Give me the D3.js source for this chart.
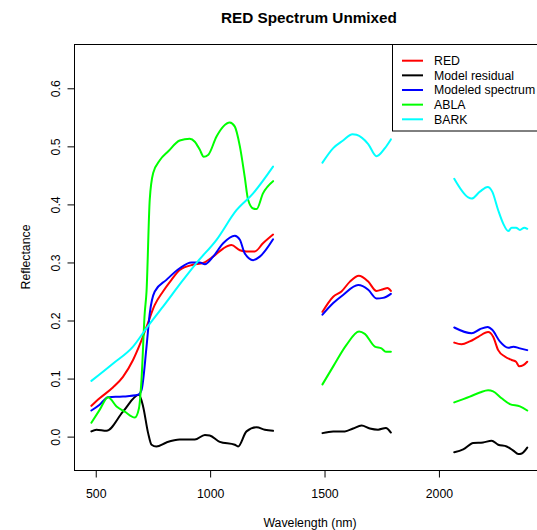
<!DOCTYPE html>
<html>
<head>
<meta charset="utf-8">
<script src="https://cdn.jsdelivr.net/npm/d3@7"></script>
<style>
  html, body { margin: 0; padding: 0; background: #fff; overflow: hidden; }
  text { font-family: "Liberation Sans", Arial, Helvetica, sans-serif; }
</style>
</head>
<body>
<svg id="chart" width="537" height="530"></svg>
<script>
// ---- data (null breaks the line between spectral segments) ----
const redWl = [481,517,576,619,663,692,722,758,794,831,867,925,969,1013,1057,1093,1130,1159,1195,1231,1275, null,
  1491,1538,1574,1611,1650,1691,1727,1756,1775,1790, null,
  2067,2099,2135,2172,2215,2237,2259,2288,2318,2337,2351,2369,2386];
const redVal = [0.053,0.066,0.085,0.103,0.132,0.158,0.189,0.227,0.250,0.270,0.287,0.296,0.299,0.310,0.324,0.330,0.321,0.319,0.319,0.333,0.348, null,
  0.215,0.241,0.250,0.267,0.277,0.267,0.251,0.254,0.256,0.251, null,
  0.162,0.159,0.164,0.172,0.180,0.172,0.149,0.138,0.132,0.129,0.121,0.123,0.129];

const residWl = [481,503,547,619,689,707,729,744,765,809,867,933,977,998,1042,1108,1122,1159,1203,1239,1275, null,
  1491,1538,1589,1625,1662,1698,1734,1768,1790, null,
  2067,2106,2150,2193,2230,2259,2296,2325,2347,2362,2386];
const residVal = [0.009,0.012,0.010,0.043,0.072,0.052,0.006,-0.014,-0.017,-0.010,-0.005,-0.005,0.003,0.002,-0.009,-0.014,-0.017,0.009,0.016,0.012,0.010, null,
  0.006,0.009,0.009,0.014,0.019,0.014,0.012,0.015,0.007, null,
  -0.027,-0.022,-0.011,-0.010,-0.007,-0.014,-0.017,-0.024,-0.030,-0.029,-0.019];

const modelWl = [481,517,554,619,685,700,722,736,758,809,867,918,955,977,1013,1057,1108,1130,1151,1188,1217,1275, null,
  1491,1538,1581,1647,1691,1727,1756,1790, null,
  2067,2143,2179,2213,2233,2266,2303,2325,2354,2386];
const modelVal = [0.045,0.055,0.068,0.069,0.072,0.080,0.155,0.212,0.250,0.270,0.290,0.300,0.300,0.297,0.310,0.333,0.346,0.339,0.316,0.304,0.310,0.340, null,
  0.210,0.230,0.244,0.261,0.253,0.238,0.239,0.246, null,
  0.188,0.178,0.185,0.189,0.184,0.164,0.153,0.155,0.152,0.149];

const ablaWl = [481,517,554,591,627,671,689,700,714,722,736,751,780,816,867,911,933,955,972,991,1028,1057,1086,1108,1130,1151,1166,1188,1203,1231,1275, null,
  1491,1538,1596,1651,1676,1720,1749,1768,1790, null,
  2067,2135,2179,2215,2237,2274,2310,2354,2386];
const ablaVal = [0.024,0.046,0.068,0.052,0.043,0.033,0.049,0.098,0.212,0.250,0.408,0.454,0.476,0.491,0.510,0.513,0.508,0.494,0.482,0.485,0.517,0.534,0.541,0.534,0.500,0.448,0.408,0.393,0.392,0.419,0.440, null,
  0.090,0.121,0.158,0.181,0.177,0.155,0.152,0.146,0.146, null,
  0.059,0.069,0.076,0.080,0.078,0.066,0.056,0.052,0.045];

const barkWl = [481,576,663,722,794,882,940,1028,1115,1188,1275, null,
  1491,1538,1581,1622,1640,1691,1727,1764,1790, null,
  2067,2128,2143,2179,2213,2233,2259,2281,2303,2318,2337,2354,2373,2386];
const barkVal = [0.096,0.126,0.155,0.187,0.224,0.270,0.299,0.339,0.390,0.419,0.465, null,
  0.472,0.497,0.510,0.521,0.520,0.504,0.483,0.497,0.512, null,
  0.444,0.412,0.410,0.422,0.430,0.422,0.390,0.367,0.354,0.360,0.360,0.356,0.360,0.358];

const seriesNames = ["RED", "Model residual", "Modeled spectrum", "ABLA", "BARK"];
const seriesColors = ["#FF0000", "#000000", "#0000FF", "#00FF00", "#00FFFF"];
const xTicks = [500, 1000, 1500, 2000];
const yTicks = [0.0, 0.1, 0.2, 0.3, 0.4, 0.5, 0.6];
const titleText = "RED Spectrum Unmixed";
const xLabel = "Wavelength (nm)";
const yLabel = "Reflectance";

// ---- layout ----
const svg = d3.select("#chart");
const L = 74, R = 546, T = 44, B = 470;
const x = d3.scaleLinear().domain([405, 2468]).range([L, R]);
const y = d3.scaleLinear().domain([-0.0575, 0.6763]).range([B, T]);

const series = [
  {wl: redWl, val: redVal},
  {wl: residWl, val: residVal},
  {wl: modelWl, val: modelVal},
  {wl: ablaWl, val: ablaVal},
  {wl: barkWl, val: barkVal}
].map((s, i) => ({
  name: seriesNames[i], color: seriesColors[i],
  pts: s.wl.map((w, j) => [w, s.val[j]])
}));

const line = d3.line()
  .defined(d => d[0] !== null && d[1] !== null)
  .x(d => x(d[0])).y(d => y(d[1]))
  .curve(d3.curveMonotoneX);

svg.append("g").selectAll("path").data(series).join("path")
  .attr("d", d => line(d.pts))
  .attr("fill", "none")
  .attr("stroke", d => d.color)
  .attr("stroke-width", 2)
  .attr("stroke-linejoin", "round")
  .attr("stroke-linecap", "round");

// box
svg.append("rect").attr("x", L + 0.5).attr("y", T + 0.5)
  .attr("width", R - L).attr("height", B - T)
  .attr("fill", "none").attr("stroke", "#000").attr("stroke-width", 1);

// x axis
const xAxis = d3.axisBottom(x).tickValues(xTicks).tickSize(7).tickPadding(12).tickFormat(d3.format("d"));
const gx = svg.append("g").attr("transform", `translate(0,${B + 0.5})`).call(xAxis);
gx.select(".domain").attr("d", `M${x(500)},0H${x(2000)}`).attr("stroke", "#000");
gx.selectAll("text").attr("font-size", 12.3).attr("fill", "#000")
  .attr("font-family", "'Liberation Sans', Arial, sans-serif");

// y axis
const yAxis = d3.axisLeft(y).tickValues(yTicks).tickSize(7).tickFormat(d3.format(".1f"));
const gy = svg.append("g").attr("transform", `translate(${L + 0.5},0)`).call(yAxis);
gy.select(".domain").attr("d", `M0,${y(0)}V${y(0.6)}`).attr("stroke", "#000");
gy.selectAll(".tick text")
  .attr("font-size", 12.3).attr("fill", "#000")
  .attr("font-family", "'Liberation Sans', Arial, sans-serif")
  .attr("x", null).attr("dy", null)
  .attr("text-anchor", "middle")
  .attr("transform", "translate(-14.5,0) rotate(-90)");

// title & labels
svg.append("text").attr("x", 309).attr("y", 23).attr("text-anchor", "middle")
  .attr("font-size", 15.3).attr("font-weight", "bold").text(titleText);
svg.append("text").attr("x", 310).attr("y", 527).attr("text-anchor", "middle")
  .attr("font-size", 12.3).text(xLabel);
svg.append("text").attr("transform", "translate(30,257) rotate(-90)").attr("text-anchor", "middle")
  .attr("font-size", 12.3).text(yLabel);

// legend
const lg = svg.append("g");
lg.append("rect").attr("x", 392.5).attr("y", T + 0.5).attr("width", R - 392).attr("height", 86.5)
  .attr("fill", "#fff").attr("stroke", "#000").attr("stroke-width", 1);
const rows = lg.selectAll("g.row").data(series).join("g").attr("class", "row")
  .attr("transform", (d, i) => `translate(0,${60.7 + i * 14.65})`);
rows.append("line").attr("x1", 402).attr("x2", 423).attr("y1", 0).attr("y2", 0)
  .attr("stroke", d => d.color).attr("stroke-width", 2);
rows.append("text").attr("x", 434).attr("y", 4.4).attr("font-size", 12.3).text(d => d.name);
</script>
</body>
</html>
